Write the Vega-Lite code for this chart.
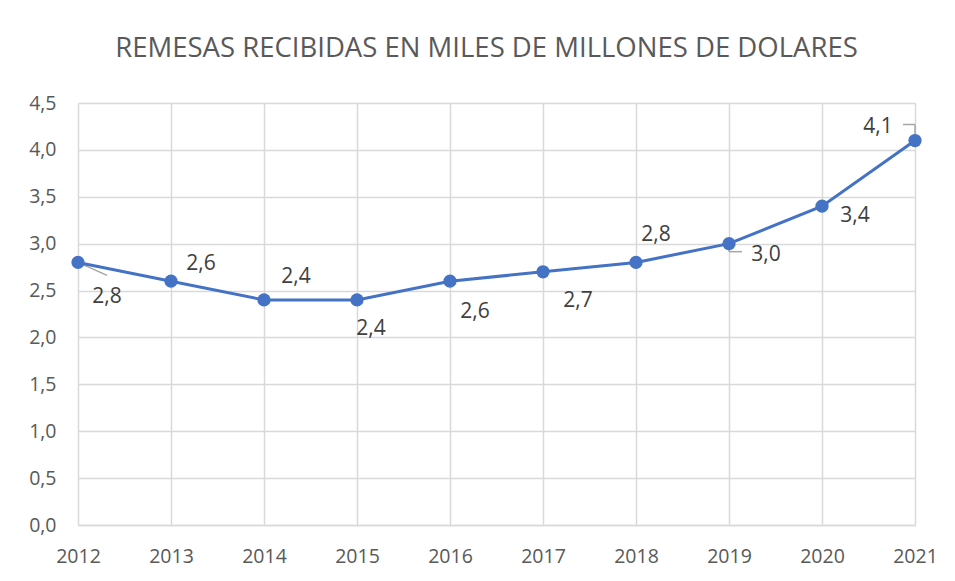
{
  "$schema": "https://vega.github.io/schema/vega-lite/v6.json",
  "width": 837,
  "height": 422,
  "autosize": {"type": "none"},
  "padding": {"left": 78, "top": 103, "right": 40, "bottom": 56},
  "background": "white",
  "config": {
    "locale": {"number": {"decimal": ",", "thousands": ".", "grouping": [3], "currency": ["", " €"]}},
    "view": {"stroke": null},
    "font": "Open Sans"
  },
  "title": {
    "text": "REMESAS RECIBIDAS EN MILES DE MILLONES DE DOLARES",
    "font": "Open Sans",
    "fontSize": 27.5,
    "fontWeight": "normal",
    "color": "#595959",
    "anchor": "middle",
    "baseline": "alphabetic",
    "offset": 9,
    "dx": -10
  },
  "data": {
    "values": [
      {"year": "2012", "value": 2.8},
      {"year": "2013", "value": 2.6},
      {"year": "2014", "value": 2.4},
      {"year": "2015", "value": 2.4},
      {"year": "2016", "value": 2.6},
      {"year": "2017", "value": 2.7},
      {"year": "2018", "value": 2.8},
      {"year": "2019", "value": 3.0},
      {"year": "2020", "value": 3.4},
      {"year": "2021", "value": 4.1}
    ]
  },
  "encoding": {
    "x": {
      "field": "year",
      "type": "ordinal",
      "scale": {"type": "point", "padding": 0},
      "axis": {
        "title": null,
        "labelAngle": 0,
        "labelFont": "Open Sans",
        "labelFontSize": 19.5,
        "labelColor": "#595959",
        "labelPadding": 22,
        "ticks": false,
        "grid": true,
        "gridColor": "#d9d9d9",
        "gridWidth": 1.5,
        "domainColor": "#d9d9d9",
        "domainWidth": 1.5
      }
    },
    "y": {
      "field": "value",
      "type": "quantitative",
      "scale": {"domain": [0, 4.5], "nice": false},
      "axis": {
        "title": null,
        "values": [0, 0.5, 1, 1.5, 2, 2.5, 3, 3.5, 4, 4.5],
        "format": ".1f",
        "labelFont": "Open Sans",
        "labelFontSize": 19.5,
        "labelColor": "#595959",
        "labelPadding": 22,
        "ticks": false,
        "domain": false,
        "grid": true,
        "gridColor": "#d9d9d9",
        "gridWidth": 1.5
      }
    }
  },
  "layer": [
    {
      "transform": [{"filter": "datum.year == '2012'"}],
      "mark": {"type": "rule", "color": "#a6a6a6", "strokeWidth": 1.5, "x2Offset": 29, "y2Offset": 13},
      "encoding": {"x2": {"field": "year"}, "y2": {"field": "value"}}
    },
    {
      "transform": [{"filter": "datum.year == '2019'"}],
      "mark": {"type": "rule", "color": "#a6a6a6", "strokeWidth": 1.5, "y2Offset": 8},
      "encoding": {"x2": {"field": "year"}, "y2": {"field": "value"}}
    },
    {
      "transform": [{"filter": "datum.year == '2019'"}],
      "mark": {"type": "rule", "color": "#a6a6a6", "strokeWidth": 1.5, "yOffset": 8, "y2Offset": 8, "x2Offset": 13},
      "encoding": {"x2": {"field": "year"}, "y2": {"field": "value"}}
    },
    {
      "transform": [{"filter": "datum.year == '2021'"}],
      "mark": {"type": "rule", "color": "#a6a6a6", "strokeWidth": 1.5, "yOffset": -16, "y2Offset": -16, "xOffset": -12},
      "encoding": {"x2": {"field": "year"}, "y2": {"field": "value"}}
    },
    {
      "transform": [{"filter": "datum.year == '2021'"}],
      "mark": {"type": "rule", "color": "#a6a6a6", "strokeWidth": 1.5, "yOffset": -16, "y2Offset": -5},
      "encoding": {"x2": {"field": "year"}, "y2": {"field": "value"}}
    },
    {
      "mark": {"type": "line", "color": "#4472C4", "strokeWidth": 3},
      "encoding": {}
    },
    {
      "mark": {"type": "point", "filled": true, "opacity": 1, "color": "#4472C4", "size": 175},
      "encoding": {}
    },
    {
      "transform": [{"filter": "datum.year == '2012'"}],
      "mark": {"type": "text", "font": "Open Sans", "fontSize": 21, "color": "#404040", "dx": 29, "dy": 35},
      "encoding": {"text": {"field": "value", "type": "quantitative", "format": ".1f"}}
    },
    {
      "transform": [{"filter": "datum.year == '2013'"}],
      "mark": {"type": "text", "font": "Open Sans", "fontSize": 21, "color": "#404040", "dx": 30, "dy": -17},
      "encoding": {"text": {"field": "value", "type": "quantitative", "format": ".1f"}}
    },
    {
      "transform": [{"filter": "datum.year == '2014'"}],
      "mark": {"type": "text", "font": "Open Sans", "fontSize": 21, "color": "#404040", "dx": 32, "dy": -23},
      "encoding": {"text": {"field": "value", "type": "quantitative", "format": ".1f"}}
    },
    {
      "transform": [{"filter": "datum.year == '2015'"}],
      "mark": {"type": "text", "font": "Open Sans", "fontSize": 21, "color": "#404040", "dx": 14, "dy": 29},
      "encoding": {"text": {"field": "value", "type": "quantitative", "format": ".1f"}}
    },
    {
      "transform": [{"filter": "datum.year == '2016'"}],
      "mark": {"type": "text", "font": "Open Sans", "fontSize": 21, "color": "#404040", "dx": 25, "dy": 31},
      "encoding": {"text": {"field": "value", "type": "quantitative", "format": ".1f"}}
    },
    {
      "transform": [{"filter": "datum.year == '2017'"}],
      "mark": {"type": "text", "font": "Open Sans", "fontSize": 21, "color": "#404040", "dx": 35, "dy": 29},
      "encoding": {"text": {"field": "value", "type": "quantitative", "format": ".1f"}}
    },
    {
      "transform": [{"filter": "datum.year == '2018'"}],
      "mark": {"type": "text", "font": "Open Sans", "fontSize": 21, "color": "#404040", "dx": 20, "dy": -27},
      "encoding": {"text": {"field": "value", "type": "quantitative", "format": ".1f"}}
    },
    {
      "transform": [{"filter": "datum.year == '2019'"}],
      "mark": {"type": "text", "font": "Open Sans", "fontSize": 21, "color": "#404040", "dx": 37, "dy": 11},
      "encoding": {"text": {"field": "value", "type": "quantitative", "format": ".1f"}}
    },
    {
      "transform": [{"filter": "datum.year == '2020'"}],
      "mark": {"type": "text", "font": "Open Sans", "fontSize": 21, "color": "#404040", "dx": 33, "dy": 10},
      "encoding": {"text": {"field": "value", "type": "quantitative", "format": ".1f"}}
    },
    {
      "transform": [{"filter": "datum.year == '2021'"}],
      "mark": {"type": "text", "font": "Open Sans", "fontSize": 21, "color": "#404040", "dx": -37, "dy": -14},
      "encoding": {"text": {"field": "value", "type": "quantitative", "format": ".1f"}}
    }
  ]
}
